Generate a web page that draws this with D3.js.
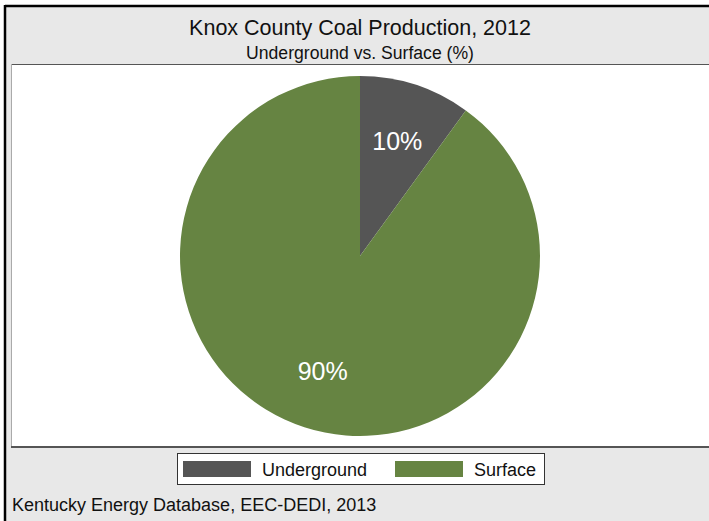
<!DOCTYPE html>
<html><head><meta charset="utf-8">
<script src="https://cdn.jsdelivr.net/npm/d3@7"></script>
<style>html,body{margin:0;padding:0;background:#fff;}svg{display:block;}</style>
</head><body>
<script>
const categories = ["Underground", "Surface"];
const values = [10, 90];
const labels = ["10%", "90%"];
const colors = ["#555555", "#668442"];
const title = "Knox County Coal Production, 2012";
const subtitle = "Underground vs. Surface (%)";
const source = "Kentucky Energy Database, EEC-DEDI, 2013";

const W = 709, H = 521;
const svg = d3.select("body").append("svg").attr("width", W).attr("height", H)
  .style("font-family", "'Liberation Sans', Arial, sans-serif");

svg.append("rect").attr("x", 0).attr("y", 0).attr("width", W).attr("height", H).attr("fill", "#fff");
// outer frame
svg.append("rect").attr("x", 5).attr("y", 6).attr("width", W).attr("height", H).attr("fill", "#e8e8e8");
svg.append("line").attr("x1", 5).attr("x2", W).attr("y1", 6).attr("y2", 6).attr("stroke", "#000").attr("stroke-width", 2.5);
svg.append("line").attr("x1", 5).attr("x2", 5).attr("y1", 5).attr("y2", H).attr("stroke", "#000").attr("stroke-width", 2.5);

svg.append("text").attr("x", 360).attr("y", 35).attr("text-anchor", "middle")
  .attr("font-size", 21.5).attr("fill", "#111").text(title);
svg.append("text").attr("x", 360).attr("y", 59).attr("text-anchor", "middle")
  .attr("font-size", 17.6).attr("fill", "#111").text(subtitle);

// plot area
svg.append("rect").attr("x", 11.5).attr("y", 64.5).attr("width", W).attr("height", 382)
  .attr("fill", "#fff").attr("stroke", "none");
svg.append("line").attr("x1", 11).attr("x2", W).attr("y1", 64.5).attr("y2", 64.5).attr("stroke", "#555").attr("stroke-width", 1);
svg.append("line").attr("x1", 11.5).attr("x2", 11.5).attr("y1", 64).attr("y2", 447).attr("stroke", "#aaa").attr("stroke-width", 1);
svg.append("line").attr("x1", 11).attr("x2", W).attr("y1", 447).attr("y2", 447).attr("stroke", "#555").attr("stroke-width", 2);

const cx = 360, cy = 256, R = 180;
const pie = d3.pie().sort(null).value(d => d.v);
const data = categories.map((c, i) => ({c, v: values[i], label: labels[i], color: colors[i]}));
const arcs = pie(data);
const arc = d3.arc().innerRadius(0).outerRadius(R);
const labelArc = d3.arc().innerRadius(R * 0.67).outerRadius(R * 0.67);
const g = svg.append("g").attr("transform", `translate(${cx},${cy})`);
g.selectAll("path").data(arcs).join("path").attr("d", arc).attr("fill", d => d.data.color);
g.selectAll("text").data(arcs).join("text")
  .attr("x", d => labelArc.centroid(d)[0])
  .attr("y", d => labelArc.centroid(d)[1] + 9)
  .attr("text-anchor", "middle").attr("font-size", 25).attr("fill", "#fff")
  .text(d => d.data.label);

// legend
const lg = svg.append("g");
lg.append("rect").attr("x", 177.5).attr("y", 453.5).attr("width", 367).attr("height", 31)
  .attr("fill", "#fff").attr("stroke", "#333").attr("stroke-width", 1);
const legX = [183, 395];
categories.forEach((c, i) => {
  lg.append("rect").attr("x", legX[i]).attr("y", 461).attr("width", 68).attr("height", 16).attr("fill", colors[i]);
  lg.append("text").attr("x", legX[i] + 79).attr("y", 476).attr("font-size", 18).attr("fill", "#111").text(c);
});

svg.append("text").attr("x", 12).attr("y", 511).attr("font-size", 18).attr("fill", "#111").text(source);
</script>
</body></html>
